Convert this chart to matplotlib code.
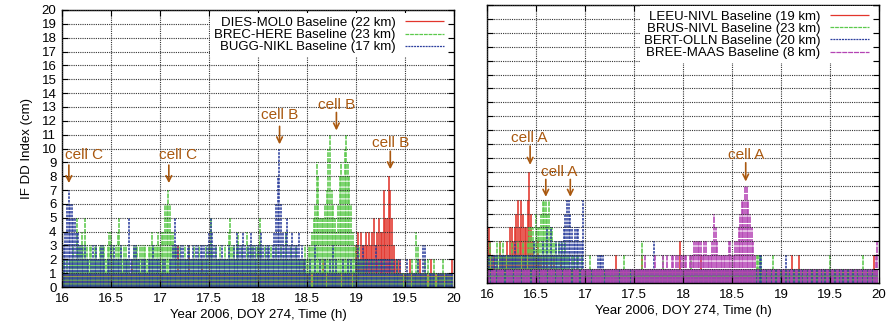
import numpy as np
import matplotlib
matplotlib.use("Agg")
import matplotlib.pyplot as plt

plt.rcParams['font.family'] = ['Liberation Sans', 'DejaVu Sans']

# one sample per minute, 16:00 .. 19:59
minutes = np.arange(240)
hours = 16 + minutes / 60.0

# ---- left panel (cells B and C) ----
dies_mol0 = [
    1, 1, 1, 1, 1, 1, 1, 1, 1, 1, 1, 1, 1, 1, 1, 1, 1, 1, 1, 1,
    1, 1, 1, 1, 1, 1, 1, 1, 1, 1, 1, 1, 1, 1, 1, 1, 1, 1, 1, 1,
    1, 1, 1, 2, 1, 1, 1, 1, 1, 1, 1, 1, 1, 1, 1, 1, 1, 1, 1, 1,
    1, 1, 1, 1, 1, 1, 1, 1, 1, 1, 1, 3, 1, 1, 1, 1, 1, 1, 3, 1,
    1, 1, 1, 1, 1, 1, 2, 1, 1, 1, 1, 1, 1, 1, 1, 1, 1, 1, 1, 1,
    1, 1, 1, 1, 1, 1, 1, 1, 1, 1, 1, 1, 1, 1, 1, 1, 1, 1, 1, 1,
    1, 1, 1, 1, 1, 1, 1, 1, 1, 1, 1, 1, 1, 1, 1, 1, 1, 1, 1, 1,
    1, 1, 1, 1, 1, 1, 1, 1, 2, 1, 1, 1, 1, 1, 1, 1, 1, 1, 1, 1,
    2, 1, 1, 1, 1, 1, 1, 1, 1, 1, 1, 1, 1, 1, 1, 1, 1, 1, 1, 1,
    3, 4, 2, 4, 3, 3, 4, 3, 4, 3, 4, 5, 3, 4, 5, 4, 4, 7, 5, 5,
    8, 7, 5, 3, 2, 2, 2, 2, 1, 1, 1, 1, 1, 2, 1, 1, 1, 1, 1, 2,
    1, 1, 1, 1, 1, 1, 2, 1, 1, 1, 1, 1, 1, 1, 1, 1, 1, 1, 1, 2,
]
brec_here = [
    1, 2, 1, 2, 1, 2, 2, 3, 2, 5, 3, 3, 4, 3, 5, 3, 2, 3, 3, 2,
    3, 3, 2, 3, 3, 3, 3, 2, 3, 4, 4, 3, 2, 3, 4, 5, 3, 2, 3, 3,
    2, 2, 1, 2, 3, 3, 3, 2, 3, 3, 3, 3, 2, 3, 3, 4, 3, 3, 3, 4,
    3, 4, 4, 6, 6, 7, 6, 4, 4, 3, 3, 2, 3, 2, 2, 3, 2, 2, 3, 2,
    2, 3, 2, 2, 3, 2, 2, 2, 3, 2, 3, 5, 3, 2, 3, 2, 2, 3, 2, 2,
    3, 2, 4, 5, 3, 3, 2, 3, 4, 2, 3, 2, 2, 4, 3, 2, 3, 3, 2, 3,
    3, 5, 3, 2, 3, 2, 3, 2, 3, 2, 2, 3, 2, 2, 3, 2, 2, 4, 2, 2,
    3, 2, 2, 3, 2, 2, 2, 2, 2, 3, 2, 3, 3, 4, 5, 6, 9, 8, 5, 5,
    5, 6, 7, 10, 11, 7, 6, 5, 4, 6, 8, 9, 8, 10, 11, 9, 8, 6, 4, 3,
    3, 2, 3, 2, 2, 2, 1, 2, 1, 2, 1, 2, 1, 1, 2, 1, 1, 2, 1, 1,
    1, 1, 2, 1, 1, 2, 1, 1, 1, 1, 1, 1, 1, 1, 2, 1, 1, 4, 3, 1,
    1, 1, 2, 1, 2, 1, 1, 1, 2, 1, 1, 1, 1, 2, 1, 1, 1, 1, 1, 1,
]
bugg_nikl = [
    3, 3, 4, 6, 7, 6, 6, 5, 5, 4, 4, 3, 3, 2, 3, 2, 2, 1, 2, 3,
    2, 3, 2, 2, 3, 3, 2, 1, 2, 2, 3, 2, 3, 2, 2, 2, 3, 1, 2, 2,
    2, 5, 2, 2, 3, 3, 2, 2, 1, 2, 2, 2, 1, 2, 2, 2, 3, 2, 2, 2,
    2, 1, 2, 2, 1, 1, 2, 2, 3, 5, 3, 3, 2, 3, 3, 2, 2, 3, 3, 2,
    3, 2, 3, 3, 2, 3, 3, 3, 2, 3, 4, 5, 4, 3, 3, 2, 2, 2, 3, 2,
    2, 2, 3, 2, 2, 3, 2, 4, 3, 3, 3, 4, 3, 2, 3, 3, 4, 3, 3, 2,
    3, 3, 4, 3, 2, 3, 3, 3, 2, 3, 4, 6, 8, 10, 6, 4, 3, 4, 5, 3,
    3, 4, 3, 3, 3, 4, 2, 3, 2, 2, 1, 1, 2, 0, 1, 3, 1, 1, 2, 1,
    1, 2, 0, 1, 2, 1, 3, 1, 2, 1, 1, 0, 2, 1, 1, 2, 1, 2, 0, 1,
    2, 3, 2, 2, 3, 2, 2, 2, 2, 2, 2, 2, 3, 2, 2, 2, 2, 2, 2, 2,
    2, 2, 2, 2, 1, 2, 1, 2, 1, 0, 1, 2, 1, 1, 0, 1, 1, 1, 2, 1,
    1, 3, 3, 1, 0, 1, 1, 1, 1, 0, 1, 1, 1, 1, 0, 1, 1, 1, 1, 1,
]

# ---- right panel (cell A) ----
leeu_nivl = [
    2, 4, 3, 2, 2, 1, 2, 1, 3, 2, 2, 2, 3, 2, 4, 4, 3, 4, 5, 6,
    4, 6, 5, 4, 4, 6, 8, 5, 3, 2, 2, 3, 2, 2, 1, 2, 1, 2, 1, 2,
    1, 2, 1, 1, 1, 2, 1, 1, 1, 1, 1, 1, 1, 1, 1, 1, 1, 1, 1, 1,
    1, 1, 1, 1, 1, 1, 1, 1, 1, 1, 1, 1, 1, 1, 1, 1, 1, 1, 1, 2,
    1, 1, 1, 1, 1, 1, 1, 1, 1, 1, 1, 1, 1, 1, 1, 2, 1, 1, 1, 1,
    1, 1, 1, 1, 1, 1, 1, 1, 1, 1, 1, 1, 1, 1, 1, 1, 1, 1, 3, 1,
    1, 1, 1, 1, 1, 1, 1, 1, 1, 1, 1, 2, 1, 1, 1, 1, 1, 1, 1, 1,
    1, 1, 1, 1, 1, 1, 1, 1, 1, 1, 1, 1, 1, 1, 1, 1, 1, 1, 1, 1,
    1, 1, 1, 1, 1, 1, 1, 1, 1, 1, 1, 1, 1, 1, 1, 1, 1, 1, 1, 1,
    1, 1, 1, 1, 1, 1, 1, 2, 1, 1, 1, 2, 1, 1, 1, 1, 1, 1, 1, 1,
    1, 1, 1, 1, 1, 1, 1, 1, 1, 1, 1, 1, 1, 1, 1, 1, 1, 1, 1, 1,
    1, 1, 1, 1, 1, 1, 1, 1, 1, 1, 1, 1, 1, 1, 1, 1, 1, 2, 1, 1,
]
brus_nivl = [
    1, 2, 3, 2, 1, 2, 3, 2, 3, 2, 3, 2, 2, 2, 2, 3, 2, 2, 2, 3,
    2, 2, 3, 2, 2, 3, 4, 4, 4, 3, 5, 4, 4, 5, 6, 6, 6, 5, 6, 4,
    4, 3, 3, 2, 3, 2, 3, 2, 3, 2, 2, 1, 2, 2, 1, 2, 2, 1, 2, 1,
    1, 1, 1, 2, 1, 1, 1, 1, 1, 1, 1, 1, 1, 1, 1, 1, 1, 1, 1, 1,
    1, 1, 1, 1, 2, 1, 1, 1, 1, 1, 1, 1, 1, 1, 1, 3, 1, 1, 1, 1,
    1, 1, 1, 1, 1, 1, 1, 1, 2, 1, 1, 1, 1, 1, 1, 1, 1, 1, 1, 1,
    1, 1, 1, 1, 1, 2, 1, 1, 1, 1, 1, 1, 1, 1, 1, 1, 1, 1, 1, 1,
    1, 1, 1, 1, 1, 1, 1, 1, 1, 1, 1, 1, 1, 1, 1, 1, 1, 1, 1, 1,
    1, 1, 1, 1, 1, 2, 2, 2, 2, 1, 1, 1, 1, 1, 1, 2, 1, 1, 1, 1,
    1, 1, 1, 1, 1, 1, 1, 1, 1, 1, 1, 1, 1, 1, 1, 1, 1, 1, 1, 1,
    1, 1, 1, 1, 1, 1, 1, 1, 1, 1, 2, 1, 1, 1, 1, 1, 1, 1, 1, 1,
    1, 1, 1, 1, 1, 1, 1, 1, 1, 1, 2, 1, 1, 1, 1, 1, 1, 1, 1, 1,
]
bert_olln = [
    2, 2, 1, 2, 2, 2, 2, 1, 2, 2, 2, 2, 1, 2, 2, 2, 2, 3, 2, 2,
    2, 1, 2, 2, 2, 1, 2, 2, 2, 3, 2, 2, 2, 2, 3, 2, 2, 4, 2, 4,
    2, 2, 3, 2, 3, 3, 3, 4, 5, 6, 6, 5, 4, 3, 4, 4, 4, 3, 3, 6,
    1, 1, 1, 1, 1, 1, 1, 1, 2, 2, 2, 2, 1, 1, 1, 1, 1, 1, 1, 1,
    1, 1, 1, 1, 1, 1, 1, 1, 1, 1, 1, 1, 1, 1, 1, 1, 1, 1, 1, 1,
    1, 1, 3, 1, 1, 1, 1, 1, 1, 1, 1, 1, 1, 1, 1, 1, 1, 1, 1, 1,
    1, 1, 1, 1, 1, 1, 1, 1, 1, 1, 1, 1, 1, 1, 1, 1, 1, 1, 1, 1,
    1, 1, 1, 1, 1, 1, 1, 1, 1, 1, 1, 1, 1, 1, 1, 1, 1, 1, 1, 1,
    1, 1, 1, 1, 1, 1, 1, 2, 2, 1, 1, 1, 1, 1, 1, 1, 1, 1, 1, 1,
    1, 1, 1, 2, 1, 1, 1, 1, 1, 1, 1, 1, 1, 1, 1, 1, 1, 1, 1, 1,
    1, 1, 1, 1, 1, 1, 1, 1, 1, 1, 1, 1, 1, 1, 1, 1, 1, 1, 1, 1,
    1, 1, 1, 1, 1, 1, 1, 1, 1, 1, 1, 1, 1, 1, 1, 1, 1, 1, 1, 1,
]
bree_maas = [
    1, 1, 0, 1, 1, 1, 0, 1, 1, 1, 1, 0, 1, 1, 1, 1, 0, 1, 1, 1,
    1, 0, 1, 1, 1, 1, 1, 0, 1, 1, 1, 1, 0, 1, 1, 1, 1, 0, 1, 1,
    1, 1, 0, 1, 1, 1, 0, 1, 1, 1, 1, 1, 0, 1, 1, 1, 1, 0, 1, 1,
    1, 1, 1, 1, 0, 1, 1, 1, 1, 1, 1, 1, 0, 1, 1, 1, 1, 1, 1, 1,
    1, 0, 1, 1, 1, 1, 1, 1, 0, 1, 1, 1, 1, 1, 1, 1, 1, 2, 1, 1,
    1, 1, 1, 2, 1, 1, 1, 1, 2, 1, 2, 1, 1, 2, 2, 1, 2, 2, 1, 2,
    2, 2, 2, 1, 2, 2, 2, 3, 3, 3, 3, 3, 2, 3, 3, 2, 2, 2, 3, 5,
    4, 3, 2, 2, 2, 2, 2, 2, 3, 3, 2, 2, 3, 3, 4, 5, 6, 6, 7, 7,
    6, 5, 4, 3, 2, 0, 1, 0, 0, 1, 1, 0, 1, 1, 0, 1, 1, 0, 1, 1,
    0, 1, 1, 0, 1, 0, 1, 1, 0, 1, 1, 0, 1, 0, 1, 1, 0, 1, 1, 0,
    1, 1, 0, 1, 1, 0, 1, 0, 1, 1, 0, 1, 1, 0, 1, 1, 0, 1, 0, 1,
    1, 0, 1, 1, 0, 1, 1, 0, 1, 1, 0, 1, 1, 0, 1, 1, 0, 1, 2, 3,
]

left_labels = ["DIES-MOL0 Baseline (22 km)", "BREC-HERE Baseline (23 km)",
               "BUGG-NIKL Baseline (17 km)"]
right_labels = ["LEEU-NIVL Baseline (19 km)", "BRUS-NIVL Baseline (23 km)",
                "BERT-OLLN Baseline (20 km)", "BREE-MAAS Baseline (8 km)"]

RED, GREEN, BLUE, MAGENTA = "#e2352c", "#5cc94c", "#2c3f9e", "#b444b4"
BROWN = "#a9580f"
STYLES = {RED: "-", GREEN: (0, (3, 0.7)), BLUE: (0, (1.6, 0.7)), MAGENTA: (0, (4, 0.7))}

# (label, label x, label y, arrow x list, arrow tail, arrow tip)
left_cells = [("cell C", 16.23, 9.5, [16.07], 8.8, 7.5),
              ("cell C", 17.18, 9.5, [17.09], 8.8, 7.5),
              ("cell B", 18.22, 12.4, [18.22], 11.6, 10.3),
              ("cell B", 18.80, 13.15, [18.80], 12.6, 11.3),
              ("cell B", 19.35, 10.4, [19.35], 9.8, 8.5)]
right_cells = [("cell A", 16.43, 10.45, [16.44], 9.85, 8.5),
               ("cell A", 16.74, 8.0, [16.60, 16.85], 7.45, 6.2),
               ("cell A", 18.64, 9.2, [18.64], 8.65, 7.3)]


def draw_panel(ax, series, labels, colors, cells, legend_anchor):
    for vals, lab, c in zip(series, labels, colors):
        ax.vlines(hours, 0, vals, colors=c, linestyles=STYLES[c],
                  linewidth=1.15, label=lab)
    ax.set_xlim(16, 20)
    ax.set_ylim(0, 20)
    ax.set_xticks(np.arange(16, 20.01, 0.5))
    ax.set_xticklabels(["16", "16.5", "17", "17.5", "18", "18.5", "19", "19.5", "20"])
    ax.set_yticks(np.arange(0, 21, 1))
    ax.set_axisbelow(False)
    ax.grid(True, color="#333333", linestyle=(0, (1, 1)), linewidth=0.8)
    ax.tick_params(direction="in", top=True, right=True, length=4, labelsize=9.5, pad=4)
    for s in ax.spines.values():
        s.set_linewidth(1.0)
    ax.set_xlabel("Year 2006, DOY 274, Time (h)", fontsize=9.5, labelpad=3)

    for text, tx, ty, axs, tail, tip in cells:
        ax.text(tx, ty, text, ha="center", va="center", fontsize=11, color=BROWN, zorder=6)
        for x in axs:
            ax.annotate("", xy=(x, tip), xytext=(x, tail),
                        arrowprops=dict(arrowstyle="->", color=BROWN, lw=1.2,
                                        shrinkA=0, shrinkB=0), zorder=6)

    leg = ax.legend(loc="upper right", bbox_to_anchor=legend_anchor, markerfirst=False,
                    frameon=True, fancybox=False, edgecolor="none", facecolor="white",
                    framealpha=1, fontsize=9.5, handlelength=3.0, handletextpad=0.7,
                    labelspacing=0.0, borderpad=0.3, borderaxespad=0)
    for h in leg.legend_handles:
        h.set_linewidth(0.9)
    leg.set_zorder(7)
    return leg


fig = plt.figure(figsize=(8.92, 3.31), dpi=100)
ax1 = fig.add_axes([62 / 892, 44 / 331, 392 / 892, 277 / 331])
ax2 = fig.add_axes([487 / 892, 48 / 331, 392 / 892, 278 / 331])

draw_panel(ax1, [dies_mol0, brec_here, bugg_nikl], left_labels,
           [RED, GREEN, BLUE], left_cells, (0.985, 0.99))
ax1.set_ylabel("IF DD Index (cm)", fontsize=9.5, labelpad=6)

draw_panel(ax2, [leeu_nivl, brus_nivl, bert_olln, bree_maas], right_labels,
           [RED, GREEN, BLUE, MAGENTA], right_cells, (0.985, 0.995))
ax2.tick_params(labelleft=False)

fig.savefig("out.png", dpi=100)
